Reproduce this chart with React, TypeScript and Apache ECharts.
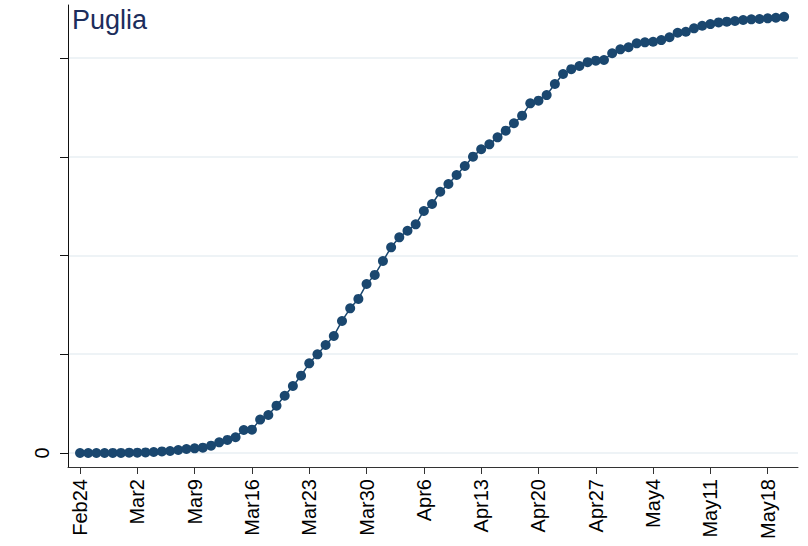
import React, { useEffect, useRef } from "react";
import * as echarts from "echarts";

const title = "Puglia";

// day index (0 = Feb24) of weekly tick marks and their labels
const tickDays = [0, 7, 14, 21, 28, 35, 42, 49, 56, 63, 70, 77, 84];
const tickLabels = ["Feb24", "Mar2", "Mar9", "Mar16", "Mar23", "Mar30", "Apr6", "Apr13", "Apr20", "Apr27", "May4", "May11", "May18"];

// y tick values (only 0 is labelled)
const yTicks = [0, 1000, 2000, 3000, 4000];

// cumulative cases, one per day from Feb24 (day 0) to May20 (day 86)
const cases = [
  0, 0, 0, 0, 1, 1, 3, 3, 6, 10,
  16, 20, 30, 40, 47, 54, 74, 108, 132, 159,
  233, 236, 338, 385, 479, 580, 678, 783, 908, 999,
  1094, 1185, 1337, 1465, 1560, 1711, 1803, 1944, 2083, 2184,
  2251, 2316, 2451, 2522, 2646, 2724, 2815, 2906, 3001, 3076,
  3126, 3197, 3264, 3339, 3416, 3541, 3568, 3625, 3737, 3838,
  3887, 3919, 3958, 3973, 3980, 4048, 4088, 4109, 4149, 4159,
  4165, 4182, 4210, 4256, 4266, 4301, 4327, 4344, 4361, 4368,
  4375, 4385, 4392, 4395, 4402, 4408, 4418,
];

const FONT = "'Liberation Sans', Arial, sans-serif";

export default function App() {
  const ref = useRef<HTMLDivElement>(null);
  useEffect(() => {
    if (!ref.current) return;
    const chart = echarts.init(ref.current, null, { renderer: "svg" });
    const data = cases.map((v, i) => [i, v]);
    chart.setOption({
      animation: false,
      backgroundColor: "#ffffff",
      title: {
        text: title,
        left: 72,
        top: 6,
        padding: 0,
        textStyle: { fontSize: 27, fontWeight: "normal", color: "#1c2d5c", fontFamily: FONT },
      },
      grid: { left: 68, right: 10, top: 5, bottom: 79, containLabel: false },
      xAxis: {
        type: "value",
        min: -1.47,
        max: 87.7,
        axisLine: { show: true, onZero: false, lineStyle: { color: "#333", width: 1 } },
        axisTick: { show: true, customValues: tickDays, length: 7, lineStyle: { color: "#333", width: 1 } },
        axisLabel: {
          customValues: tickDays,
          rotate: 90,
          margin: 12,
          fontSize: 20,
          color: "#000",
          fontFamily: FONT,
          formatter: (v: number) => {
            const i = tickDays.indexOf(Math.round(v));
            return i >= 0 ? tickLabels[i] : "";
          },
        },
        splitLine: { show: false },
      },
      yAxis: {
        type: "value",
        min: -142,
        max: 4537,
        axisLine: { show: true, onZero: false, lineStyle: { color: "#111", width: 1 } },
        axisTick: { show: true, customValues: yTicks, length: 8, lineStyle: { color: "#111", width: 1 } },
        axisLabel: {
          customValues: yTicks,
          rotate: 90,
          margin: 16,
          fontSize: 20,
          color: "#000",
          fontFamily: FONT,
          formatter: (v: number) => (v === 0 ? "0" : ""),
        },
        splitLine: { show: true, lineStyle: { color: "#e9eff3", width: 1.5 } },
      },
      series: [
        {
          type: "line",
          data,
          symbol: "circle",
          symbolSize: 10,
          showSymbol: true,
          color: "#1a476f",
          itemStyle: { color: "#1a476f" },
          lineStyle: { color: "#1a476f", width: 1.5 },
        },
      ],
    });
    return () => chart.dispose();
  }, []);
  return <div ref={ref} style={{ position: "fixed", left: 0, top: 0, width: 808, height: 546 }} />;
}
